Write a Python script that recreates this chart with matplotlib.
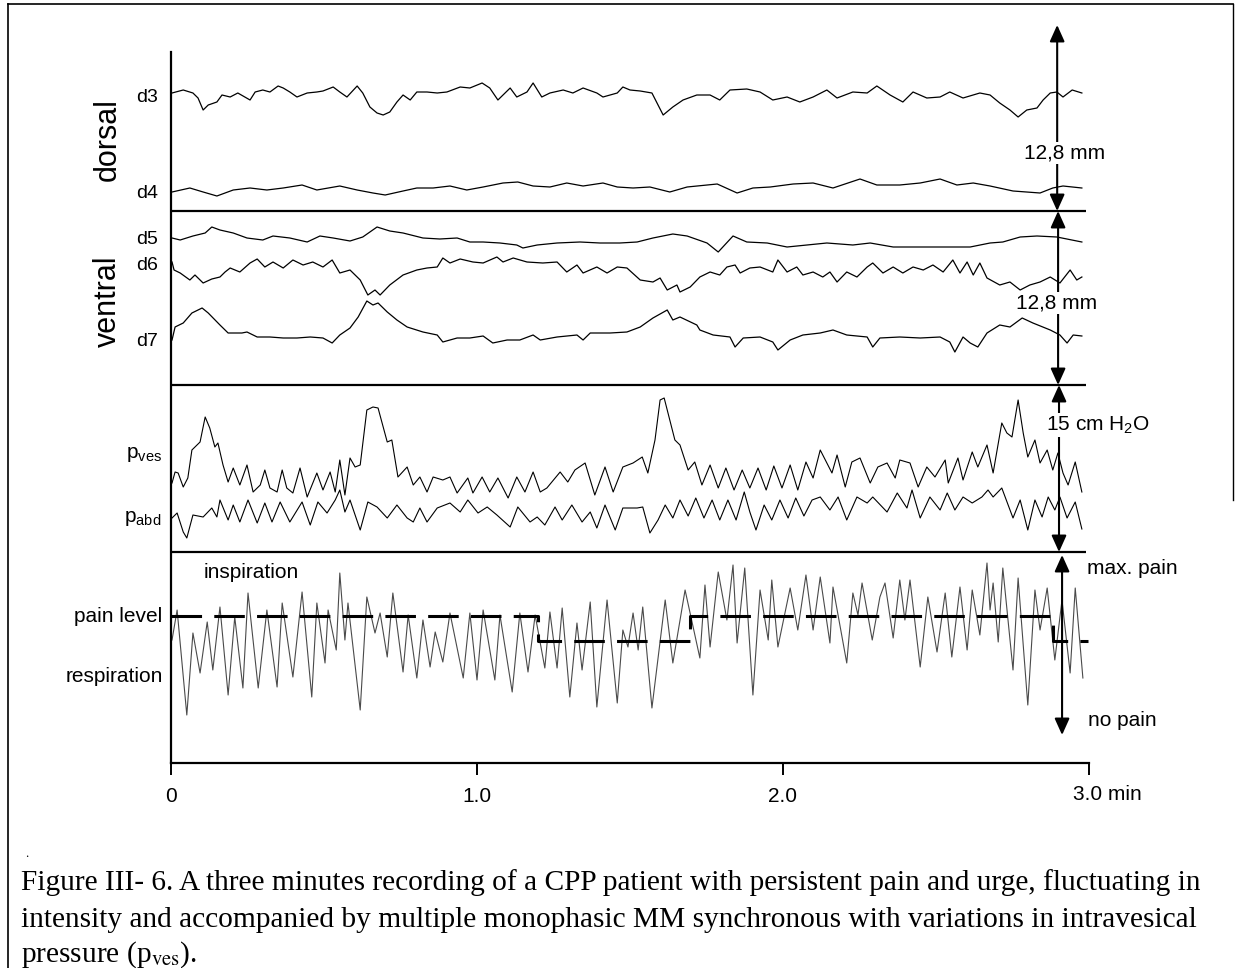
import numpy as np
import matplotlib
matplotlib.use('Agg')
import matplotlib.pyplot as plt
from matplotlib.lines import Line2D

# fonts: Arial-like for the chart, Times-like for the caption
plt.rcParams['font.family'] = ['Liberation Sans', 'DejaVu Sans']
plt.rcParams['mathtext.fontset'] = 'custom'
plt.rcParams['mathtext.rm'] = 'Liberation Sans'
plt.rcParams['mathtext.it'] = 'Liberation Sans:italic'

W, H = 1235, 968

# ---- recorded traces: (time in s, deflection in a.u., up = positive) ----
d3 = [(0.2,-1),(2.4,2),(4.3,-1),(5.3,-6),(6.3,-18),(7.3,-13),(9.0,-10),(10.0,-3),(11.6,-5),
      (13.1,-1),(15.5,-8),(16.5,0),(18.0,2),(19.4,0),(21.0,6),(22.0,4),(23.3,0),(24.7,-5),
      (26.7,-1),(28.6,0),(29.8,1),(31.8,5),(33.1,0),(34.5,-5),(36.5,6),(37.6,-1),(39.0,-15),
      (40.4,-21),(41.6,-23),(42.9,-20),(44.3,-10),(45.5,-3),(46.9,-8),(48.2,0),(50.2,0),
      (52.2,-1),(54.1,0),(56.7,5),(58.6,4),(61.0,9),(62.5,4),(64.1,-8),(66.5,4),(67.8,-5),
      (69.8,0),(71.0,9),(72.7,-5),(74.3,-1),(76.9,2),(78.8,-1),(80.8,4),(83.5,-1),(84.7,-5),
      (87.5,-1),(88.6,5),(90.0,2),(92.0,1),(94.3,-1),(95.3,-11),(96.5,-23),(98.4,-15),
      (100.4,-8),(103.1,-3),(105.7,-3),(107.6,-8),(109.6,2),(112.9,3),(115.5,0),(118.0,-8),
      (120.8,-5),(123.3,-10),(125.9,-5),(128.6,2),(130.6,-6),(133.7,0),(136.5,-1),(138.4,6),
      (141.0,-3),(143.5,-10),(145.5,0),(148.2,-6),(150.8,-5),(152.7,0),(155.3,-6),(158.6,-1),
      (160.6,-3),(162.5,-11),(164.5,-18),(166.1,-25),(167.8,-18),(169.8,-16),(171.0,-8),
      (172.4,-1),(173.7,0),(174.9,-5),(176.7,2),(178.6,-1)]

d4 = [(0.2,-4),(3.7,0),(6.3,-4),(9.0,-8),(12.2,-2),(15.5,0),(18.8,-2),(22.0,0),(25.7,3),
      (28.6,-2),(33.1,2),(36.5,-2),(39.6,-5),(42.0,-7),(45.5,-3),(48.2,0),(51.4,0),(54.7,2),
      (58.0,-2),(61.2,1),(65.1,5),(68.0,6),(71.0,2),(74.3,1),(77.6,5),(80.8,2),(84.7,5),
      (87.5,1),(90.6,0),(93.9,1),(97.8,-4),(101.2,1),(107.1,4),(111.0,-5),(114.1,0),
      (117.5,1),(122.0,4),(125.9,5),(129.8,0),(135.1,9),(138.4,3),(142.9,3),(146.9,5),
      (150.8,9),(154.1,3),(157.3,5),(160.6,2),(165.1,-3),(170.4,-5),(172.9,0),(174.9,2),
      (178.6,0)]

d5 = [(0.2,2),(1.8,0),(4.3,4),(6.7,7),(8.0,13),(9.6,10),(12.2,7),(14.9,2),(18.0,0),(20.0,4),
      (23.3,2),(26.7,-2),(29.2,4),(31.8,2),(35.1,-1),(37.6,3),(40.4,13),(42.9,9),(45.5,7),
      (49.4,2),(52.7,1),(56.1,2),(58.6,-2),(61.2,-2),(64.5,-3),(67.8,-5),(69.0,-8),(71.8,-5),
      (75.7,-3),(80.2,-2),(84.1,-3),(88.0,-3),(91.4,-2),(94.5,2),(98.4,6),(101.2,4),
      (105.1,-3),(107.3,-12),(110.2,4),(112.9,-2),(116.9,-3),(120.8,-7),(124.7,-5),
      (128.6,-3),(133.7,-5),(137.1,-3),(141.6,-7),(145.5,-7),(150.8,-7),(156.7,-7),
      (160.6,-3),(163.1,-2),(166.5,3),(169.8,4),(173.7,3),(178.6,-2)]

d6 = [(0.2,8),(0.6,0),(1.8,-3),(3.7,-10),(4.7,-5),(6.3,-13),(8.0,-9),(9.6,-7),(10.6,-2),
      (11.6,2),(13.5,-2),(15.5,7),(16.9,11),(18.4,3),(20.0,8),(22.0,2),(23.9,10),(25.9,5),
      (27.8,8),(29.8,3),(31.6,10),(33.1,-3),(35.1,0),(37.1,-10),(38.6,-25),(40.0,-20),
      (41.0,-25),(42.9,-15),(45.5,-5),(48.2,0),(50.2,2),(52.2,3),(53.3,12),(54.7,7),
      (56.7,11),(59.2,8),(61.2,7),(63.9,13),(65.1,8),(67.1,12),(69.8,8),(72.9,7),(75.7,8),
      (77.6,-2),(79.6,5),(80.8,-3),(83.5,3),(85.5,-3),(87.5,3),(89.4,2),(92.0,-10),
      (94.5,-12),(95.9,-8),(97.3,-20),(99.2,-15),(99.8,-22),(101.8,-17),(103.7,-7),
      (105.7,-2),(107.6,-5),(109.0,3),(110.6,5),(111.6,-3),(113.5,2),(115.5,3),(118.0,-2),
      (119.0,10),(120.8,-2),(122.7,3),(123.9,-5),(125.9,-2),(127.8,-7),(129.2,-2),
      (130.6,-12),(132.5,-2),(134.5,-7),(136.5,3),(137.6,7),(139.6,-3),(141.6,3),
      (143.5,-3),(145.5,3),(147.5,0),(149.4,5),(151.4,-2),(153.3,10),(154.7,-3),(156.1,8),
      (157.3,-5),(158.6,7),(160.0,-8),(162.5,-15),(164.5,-12),(166.5,-20),(168.4,-15),
      (170.4,-12),(172.4,-7),(174.3,-13),(176.3,0),(177.6,-10),(178.6,-7)]

d7 = [(0.2,-5),(0.8,8),(2.4,12),(4.1,22),(6.1,27),(7.3,22),(9.6,10),(11.2,2),(13.9,2),
      (14.9,3),(16.9,-2),(19.4,-2),(22.0,-3),(24.7,-3),(27.3,-2),(29.8,-3),(31.6,-8),
      (33.1,0),(35.1,7),(36.7,18),(38.4,34),(39.6,30),(40.6,32),(42.4,23),(44.3,15),
      (46.3,8),(49.4,3),(52.2,0),(53.3,-7),(56.1,-3),(58.6,-3),(61.2,-1),(63.1,-8),
      (65.9,-5),(68.4,-5),(71.0,0),(72.4,-5),(75.7,-2),(79.6,0),(80.8,-5),(82.2,2),
      (86.1,2),(89.4,3),(92.0,8),(94.5,17),(97.3,25),(98.4,15),(99.8,18),(103.1,10),
      (103.7,5),(106.3,0),(109.6,-2),(110.6,-12),(112.2,-3),(115.5,-2),(118.0,-7),
      (119.0,-15),(121.4,-5),(123.9,0),(127.3,2),(129.8,5),(132.5,0),(136.5,-2),
      (137.6,-12),(139.0,-3),(142.9,-2),(146.9,-3),(150.8,-2),(152.7,-7),(153.7,-17),
      (155.3,-2),(156.7,-8),(158.2,-12),(160.0,2),(162.5,10),(164.5,8),(166.9,17),
      (169.0,12),(172.4,5),(174.3,0),(175.7,-8),(176.9,0),(178.6,-1)]

p_ves = [(0.2,-3),(0.8,8),(1.4,7),(2.4,-7),(3.3,2),(4.1,30),(5.1,35),(5.7,38),(6.7,63),
         (7.6,52),(8.6,33),(9.2,37),(10.2,15),(11.2,-2),(12.2,12),(13.5,-5),(14.9,15),
         (16.1,-12),(17.5,-5),(18.4,10),(19.4,-8),(20.8,-12),(21.8,10),(22.7,-8),(23.9,-13),
         (25.3,12),(26.7,-17),(28.6,7),(29.8,-10),(31.2,8),(32.2,-12),(33.1,20),(34.1,-15),
         (35.1,22),(36.1,13),(37.1,15),(38.4,70),(39.6,73),(40.6,72),(41.6,53),(42.4,38),
         (43.3,40),(44.5,3),(46.3,13),(47.5,-5),(48.8,3),(50.2,-12),(51.4,3),(53.3,0),
         (54.7,3),(56.1,-13),(58.2,2),(59.2,-13),(61.0,3),(62.5,-12),(64.1,2),(66.1,-18),
         (67.8,3),(69.4,-12),(71.0,8),(72.4,-12),(73.7,-8),(76.3,8),(77.8,-2),(79.2,10),
         (81.2,17),(83.1,-15),(85.1,13),(86.7,-12),(88.6,13),(90.6,17),(92.4,23),(93.5,7),
         (94.9,40),(95.9,80),(96.7,82),(97.8,60),(98.8,40),(99.8,35),(101.4,10),(102.7,18),
         (104.1,-5),(105.7,15),(107.3,-8),(108.8,12),(110.4,-10),(112.0,10),(113.5,-8),
         (115.1,12),(116.7,-10),(118.2,14),(119.8,-8),(121.4,15),(122.9,-10),(124.5,18),
         (125.9,2),(127.3,30),(129.6,7),(130.6,25),(132.2,-7),(133.5,18),(135.1,22),
         (137.1,-3),(138.6,13),(140.4,17),(142.0,2),(142.9,20),(144.9,17),(146.5,-7),
         (148.2,13),(149.8,3),(151.8,20),(152.4,-3),(154.3,22),(155.3,0),(157.1,28),
         (158.2,13),(160.0,35),(161.2,7),(162.9,57),(163.9,47),(164.9,43),(166.1,80),
         (167.1,47),(168.0,23),(169.4,40),(170.4,17),(171.8,30),(172.9,10),(173.9,27),
         (174.9,7),(175.9,-5),(177.3,18),(178.6,-12)]

p_abd = [(0.2,-6),(1.2,-1),(2.4,-20),(3.1,-26),(4.3,-3),(6.3,-5),(8.0,4),(9.0,-5),(9.6,12),
         (11.2,-8),(12.2,7),(13.5,-10),(15.1,12),(16.9,-11),(18.4,9),(19.8,-10),(21.4,10),
         (23.3,-10),(25.7,10),(27.3,-13),(28.8,10),(30.6,-1),(32.2,12),(33.1,22),(34.1,0),
         (35.1,12),(37.1,-18),(38.6,10),(40.4,5),(42.4,-6),(44.3,7),(46.3,-6),(47.5,-10),
         (48.8,4),(50.2,-10),(52.2,4),(54.7,9),(56.7,0),(58.2,12),(60.2,-1),(62.0,5),
         (63.9,-3),(66.5,-15),(68.0,5),(70.4,-10),(71.8,-5),(73.3,-13),(75.3,5),(76.7,-8),
         (78.6,7),(80.6,-10),(82.2,0),(83.5,-16),(85.1,7),(87.1,-18),(88.6,4),(91.4,4),
         (92.5,5),(93.9,-21),(95.5,-8),(96.9,7),(98.4,-6),(99.8,12),(101.4,-4),(102.9,14),
         (104.5,-6),(106.1,12),(107.6,-8),(109.2,12),(110.8,-8),(112.4,20),(113.5,0),
         (114.7,-18),(116.3,7),(117.8,-8),(119.4,12),(121.0,-6),(122.5,14),(124.1,-4),
         (125.7,12),(127.3,15),(129.2,2),(130.8,15),(132.5,-8),(134.5,15),(136.5,9),
         (137.6,15),(140.4,0),(142.4,19),(144.3,4),(145.3,22),(146.9,-6),(148.8,15),
         (150.8,2),(152.2,19),(153.7,2),(155.3,15),(157.1,9),(159.0,15),(160.2,22),
         (161.2,15),(162.9,24),(165.1,-6),(166.5,12),(168.0,-18),(169.4,12),(170.8,-5),
         (172.0,15),(173.3,2),(174.3,15),(175.7,-6),(177.3,10),(178.6,-17)]

respiration = [(0.2,0),(1.2,30),(3.1,-75),(4.3,7),(5.7,-33),(7.1,18),(8.2,-30),(9.6,33),
               (11.2,-55),(12.5,23),(14.1,-48),(15.1,47),(17.1,-48),(18.8,30),(20.8,-47),
               (21.8,37),(23.9,-37),(25.7,48),(27.6,-57),(28.6,37),(30.2,-23),(30.8,30),
               (32.4,-10),(33.1,67),(34.1,0),(34.7,37),(37.1,-70),(38.4,43),(40.0,7),
               (41.0,27),(42.4,-17),(43.5,47),(45.5,-32),(46.5,25),(48.2,-38),(49.4,20),
               (50.8,-27),(51.8,8),(53.3,-22),(54.7,27),(57.3,-38),(58.6,27),(60.0,-40),
               (61.2,30),(63.5,-40),(64.5,25),(66.9,-52),(68.4,27),(70.0,-32),(71.4,25),
               (73.3,-28),(74.3,28),(75.7,-28),(76.7,32),(78.2,-57),(79.6,17),(80.6,-30),
               (82.2,38),(83.5,-67),(85.5,40),(87.5,-63),(88.6,10),(89.6,-7),(90.6,27),
               (91.6,-10),(92.5,33),(94.3,-68),(96.9,40),(98.4,-23),(100.8,50),(103.7,-18),
               (104.7,55),(105.7,-7),(107.3,68),(109.0,20),(110.2,75),(111.0,-3),(112.5,72),
               (114.1,-55),(115.5,50),(117.1,0),(117.8,60),(119.0,-7),(121.4,52),(122.9,10),
               (124.5,65),(125.9,10),(127.3,63),(129.2,-3),(129.8,53),(132.5,-23),(133.7,47),
               (134.7,25),(135.5,57),(137.5,0),(139.0,43),(140.0,57),(141.6,2),(142.9,60),
               (143.9,20),(144.9,60),(146.9,-27),(148.4,43),(150.2,-12),(151.8,47),
               (153.1,-17),(154.7,53),(156.1,-10),(157.1,50),(158.6,5),(160.0,77),(160.6,30),
               (161.2,57),(162.2,-2),(163.1,72),(165.1,-30),(166.1,62),(168.0,-65),(169.4,50),
               (170.4,10),(171.8,52),(173.3,-20),(174.7,40),(176.3,-33),(177.3,52),(178.8,-38)]

# pain rating (0 = no pain, 10 = max. pain), step changes in s
pain_t = [0.0, 72.0, 101.8, 173.0, 179.8]
pain_level = [6.6, 5.2, 6.6, 5.2, 5.2]

# ---- layout (pixel rows of the original page) ----
baseline = {'d3': 92, 'd4': 188, 'd5': 240, 'd6': 270, 'd7': 335,
            'p_ves': 480, 'p_abd': 512, 'resp': 640}
separators = [211, 385, 552]
pain_top, pain_bottom = 555, 735

fig = plt.figure(figsize=(W / 100, H / 100), dpi=100)
ax = fig.add_axes([171 / W, 1 - 763 / H, (1089 - 171) / W, (763 - 52) / H])
ax.set_xlim(0, 3.0)
ax.set_ylim(763, 52)


def draw(trace, base, **kw):
    t, v = np.array(trace).T
    ax.plot(t / 60, base - v, **kw)


draw(d3, baseline['d3'], color='k', lw=0.9)
draw(d4, baseline['d4'], color='k', lw=0.9)
draw(d5, baseline['d5'], color='k', lw=0.9)
draw(d6, baseline['d6'], color='k', lw=0.9)
draw(d7, baseline['d7'], color='k', lw=0.9)
draw(p_ves, baseline['p_ves'], color='k', lw=0.8)
draw(p_abd, baseline['p_abd'], color='k', lw=0.8)
draw(respiration, baseline['resp'], color='#4a4a4a', lw=0.8)

pain_y = pain_bottom - np.array(pain_level) * (pain_bottom - pain_top) / 10
ax.step(np.array(pain_t) / 60, pain_y, where='post', color='k', lw=2.2,
        dashes=(10, 4))

ax.hlines(separators, 0, 2.99, color='k', lw=1.6)

# spines / ticks
for s in ['top', 'right']:
    ax.spines[s].set_visible(False)
ax.spines['left'].set_linewidth(1.6)
ax.spines['bottom'].set_linewidth(1.6)
ax.set_yticks([])
ax.set_xticks([0, 1, 2, 3])
ax.set_xticklabels(['0', '1.0', '2.0', ''])
ax.tick_params(axis='x', direction='out', length=8.5, width=1.4, pad=9, labelsize=15)
ax.text(2.948, 795, '3.0 min', ha='left', va='center', fontsize=15)

# scale arrows
arrow_kw = dict(arrowstyle='<|-|>,head_length=1.0,head_width=0.45', color='k',
                lw=1.5, shrinkA=0, shrinkB=0, mutation_scale=10)
for x, y0, y1 in [(2.896, 211, 25), (2.899, 385, 211), (2.902, 552, 385), (2.912, 735, 555)]:
    ax.annotate('', xy=(x, y1), xytext=(x, y0), arrowprops=arrow_kw,
                annotation_clip=False)

box = dict(fc='white', ec='none', pad=1)
ax.text(2.92, 153, '12,8 mm', ha='center', va='center', fontsize=15, bbox=box, zorder=5)
ax.text(2.893, 303, '12,8 mm', ha='center', va='center', fontsize=15, bbox=box, zorder=5)
ax.text(2.858, 425, r'15 cm H$_2$O', ha='left', va='center', fontsize=15, bbox=box, zorder=5)
ax.text(2.993, 568, 'max. pain', ha='left', va='center', fontsize=15)
ax.text(2.997, 720, 'no pain', ha='left', va='center', fontsize=15)

# channel labels
lab = dict(ha='right', va='center', fontsize=14, clip_on=False)
ax.text(-0.042, 97, 'd3', **lab)
ax.text(-0.042, 193, 'd4', **lab)
ax.text(-0.042, 240, 'd5', **lab)
ax.text(-0.042, 265, 'd6', **lab)
ax.text(-0.042, 342, 'd7', **lab)
ax.text(-0.03, 455, r'p$_{\rm ves}$', ha='right', va='center', fontsize=15)
ax.text(-0.03, 518, r'p$_{\rm abd}$', ha='right', va='center', fontsize=15)
ax.text(-0.03, 617, 'pain level', ha='right', va='center', fontsize=15)
ax.text(-0.027, 677, 'respiration', ha='right', va='center', fontsize=15)
ax.text(0.105, 572, 'inspiration', ha='left', va='center', fontsize=15)
ax.text(-0.206, 140, 'dorsal', rotation=90, ha='center', va='center', fontsize=22)
ax.text(-0.206, 301, 'ventral', rotation=90, ha='center', va='center', fontsize=22)

# page frame
def px_line(xs, ys, **kw):
    fig.add_artist(Line2D([x / W for x in xs], [1 - y / H for y in ys], color='k', **kw))

px_line([8, 8], [4, 968], lw=1.2)
px_line([8, 1233], [4, 4], lw=1.2)
px_line([1233, 1233], [4, 500], lw=1.0)

# caption
cap = dict(ha='left', va='center', fontsize=21.2, family='Liberation Serif',
           math_fontfamily='stix')
fig.text(21 / W, 1 - 883 / H,
         'Figure III- 6. A three minutes recording of a CPP patient with persistent pain and urge, fluctuating in', **cap)
fig.text(21 / W, 1 - 920 / H,
         'intensity and accompanied by multiple monophasic MM synchronous with variations in intravesical', **cap)
fig.text(21 / W, 1 - 955 / H, r'pressure (p$_{\mathrm{ves}}$).', **cap)
fig.text(25 / W, 1 - 857 / H, '.', fontsize=9, family='Liberation Serif')

fig.savefig('out.png', dpi=100)
